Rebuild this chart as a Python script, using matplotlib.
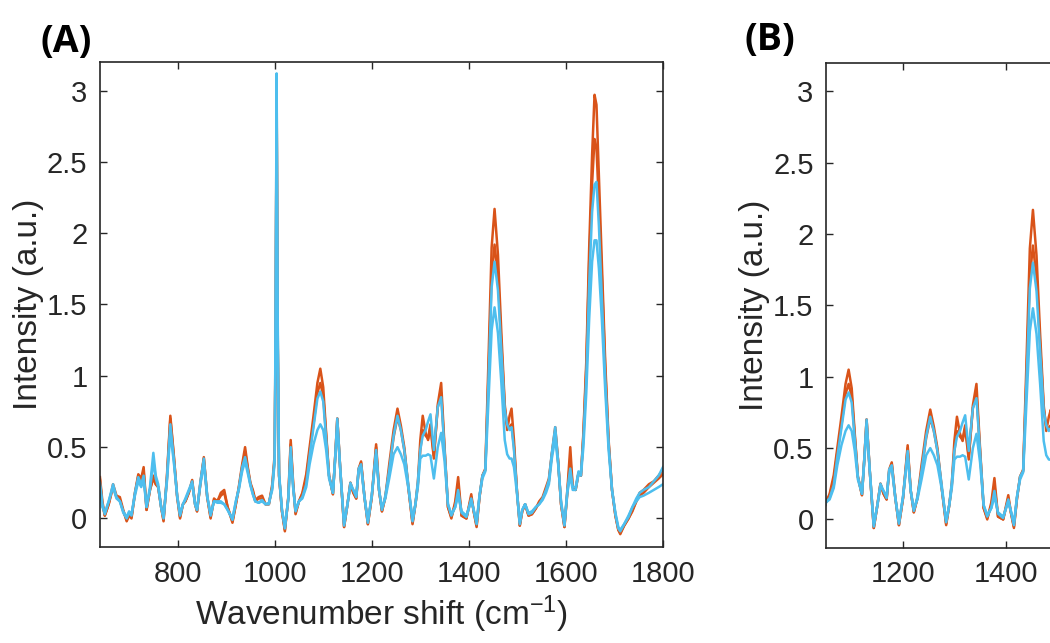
import matplotlib
matplotlib.use("Agg")
import matplotlib.pyplot as plt
from matplotlib.ticker import FormatStrFormatter

plt.rcParams['font.family'] = ['Liberation Sans', 'DejaVu Sans']
plt.rcParams['mathtext.default'] = 'regular'

# Raman spectra (wavenumber in cm^-1, intensity in a.u.)
wavenumber = [640, 645, 650, 658, 667, 674, 681, 688, 695, 700, 705, 712, 719, 725, 730,
              736, 743, 750, 755, 760, 766, 771, 778, 785, 792, 799, 805, 811, 816, 823,
              830, 836, 840, 847, 854, 861, 868, 875, 882, 889, 896, 903, 913, 920, 926,
              933, 939, 945, 950, 955, 960, 967, 974, 981, 988, 995, 1000, 1002, 1004, 1006,
              1009, 1015, 1021, 1028, 1033, 1038, 1043, 1050, 1057, 1065, 1072, 1080, 1088, 1094, 1100,
              1106, 1112, 1120, 1125, 1129, 1135, 1143, 1150, 1156, 1162, 1168, 1173, 1178, 1185, 1192,
              1200, 1209, 1215, 1221, 1228, 1236, 1245, 1253, 1260, 1267, 1276, 1284, 1290, 1295, 1300,
              1305, 1311, 1316, 1321, 1328, 1336, 1343, 1350, 1357, 1364, 1372, 1378, 1385, 1395, 1405,
              1410, 1416, 1422, 1428, 1434, 1440, 1447, 1453, 1460, 1467, 1474, 1479, 1484, 1488, 1493,
              1499, 1505, 1510, 1516, 1523, 1530, 1538, 1545, 1552, 1559, 1565, 1571, 1578, 1584, 1590,
              1597, 1603, 1609, 1614, 1620, 1626, 1631, 1636, 1642, 1648, 1654, 1659, 1663, 1668, 1674,
              1681, 1688, 1695, 1702, 1708, 1712, 1720, 1729, 1737, 1745, 1752, 1760, 1771, 1781, 1791,
              1800]

orange_high = [0.29, 0.12, 0.02, 0.10, 0.24, 0.16, 0.15, 0.06, -0.02, 0.02, 0.00, 0.18, 0.31, 0.28, 0.36,
               0.06, 0.20, 0.28, 0.24, 0.22, 0.08, -0.02, 0.30, 0.72, 0.45, 0.15, 0.00, 0.10, 0.12, 0.18,
               0.27, 0.10, 0.05, 0.25, 0.43, 0.15, 0.00, 0.14, 0.12, 0.18, 0.20, 0.08, -0.03, 0.10, 0.22,
               0.38, 0.50, 0.35, 0.25, 0.20, 0.13, 0.15, 0.16, 0.10, 0.10, 0.24, 0.45, 1.40, 3.05, 1.40,
               0.30, 0.05, -0.09, 0.15, 0.55, 0.25, 0.03, 0.12, 0.18, 0.31, 0.50, 0.72, 0.95, 1.05, 0.92,
               0.60, 0.30, 0.17, 0.45, 0.70, 0.35, -0.06, 0.10, 0.25, 0.18, 0.14, 0.35, 0.40, 0.15, -0.04,
               0.15, 0.52, 0.20, 0.05, 0.15, 0.38, 0.62, 0.77, 0.65, 0.50, 0.20, -0.04, 0.10, 0.25, 0.55,
               0.72, 0.60, 0.55, 0.64, 0.42, 0.80, 0.95, 0.50, 0.08, 0.00, 0.12, 0.29, 0.02, 0.00, 0.17,
               0.05, -0.06, 0.15, 0.30, 0.35, 1.05, 1.90, 2.17, 1.85, 1.30, 0.80, 0.62, 0.72, 0.77, 0.55,
               0.20, -0.05, 0.05, 0.10, 0.02, 0.03, 0.07, 0.12, 0.15, 0.22, 0.28, 0.45, 0.64, 0.40, 0.10,
               -0.06, 0.20, 0.50, 0.22, 0.20, 0.32, 0.30, 0.60, 1.10, 1.90, 2.55, 2.97, 2.90, 2.40, 1.80,
               1.10, 0.55, 0.20, 0.02, -0.08, -0.11, -0.05, 0.00, 0.05, 0.12, 0.18, 0.20, 0.24, 0.26, 0.30,
               0.34]

orange_low = [0.27, 0.10, 0.02, 0.10, 0.22, 0.15, 0.13, 0.05, -0.01, 0.03, 0.01, 0.17, 0.30, 0.26, 0.33,
              0.06, 0.20, 0.30, 0.24, 0.22, 0.08, -0.01, 0.28, 0.70, 0.44, 0.16, 0.01, 0.10, 0.12, 0.18,
              0.26, 0.10, 0.05, 0.25, 0.42, 0.15, 0.01, 0.13, 0.12, 0.16, 0.18, 0.08, -0.02, 0.10, 0.21,
              0.36, 0.47, 0.34, 0.24, 0.19, 0.12, 0.14, 0.14, 0.10, 0.10, 0.22, 0.42, 1.30, 2.95, 1.30,
              0.30, 0.05, -0.08, 0.14, 0.52, 0.24, 0.04, 0.12, 0.17, 0.28, 0.47, 0.66, 0.88, 0.95, 0.86,
              0.58, 0.30, 0.17, 0.45, 0.70, 0.35, -0.06, 0.10, 0.25, 0.18, 0.14, 0.34, 0.39, 0.15, -0.04,
              0.15, 0.50, 0.20, 0.05, 0.15, 0.34, 0.57, 0.71, 0.62, 0.48, 0.20, -0.03, 0.10, 0.24, 0.48,
              0.62, 0.58, 0.56, 0.66, 0.44, 0.78, 0.88, 0.48, 0.08, 0.01, 0.10, 0.24, 0.02, 0.00, 0.15,
              0.05, -0.05, 0.15, 0.30, 0.34, 0.95, 1.70, 1.92, 1.70, 1.22, 0.78, 0.65, 0.64, 0.66, 0.50,
              0.20, -0.05, 0.05, 0.10, 0.02, 0.03, 0.07, 0.11, 0.14, 0.20, 0.26, 0.45, 0.62, 0.40, 0.10,
              -0.06, 0.18, 0.42, 0.22, 0.20, 0.32, 0.30, 0.58, 1.05, 1.80, 2.35, 2.66, 2.60, 2.20, 1.70,
              1.05, 0.53, 0.20, 0.02, -0.08, -0.10, -0.05, 0.00, 0.06, 0.12, 0.16, 0.18, 0.22, 0.25, 0.28,
              0.31]

blue_high = [0.25, 0.10, 0.03, 0.12, 0.24, 0.15, 0.12, 0.04, 0.00, 0.04, 0.02, 0.18, 0.29, 0.24, 0.30,
             0.08, 0.22, 0.46, 0.30, 0.24, 0.08, 0.00, 0.28, 0.66, 0.42, 0.16, 0.02, 0.10, 0.14, 0.20,
             0.26, 0.10, 0.06, 0.26, 0.42, 0.16, 0.02, 0.12, 0.12, 0.12, 0.10, 0.06, -0.01, 0.12, 0.21,
             0.36, 0.43, 0.33, 0.24, 0.17, 0.12, 0.11, 0.13, 0.10, 0.10, 0.22, 0.43, 1.50, 3.12, 1.50,
             0.32, 0.06, -0.07, 0.14, 0.50, 0.22, 0.05, 0.12, 0.15, 0.24, 0.44, 0.64, 0.84, 0.89, 0.82,
             0.56, 0.30, 0.18, 0.45, 0.70, 0.35, -0.05, 0.10, 0.25, 0.20, 0.15, 0.35, 0.38, 0.15, -0.03,
             0.16, 0.48, 0.20, 0.06, 0.16, 0.34, 0.58, 0.72, 0.62, 0.48, 0.22, -0.02, 0.10, 0.26, 0.48,
             0.58, 0.62, 0.68, 0.73, 0.48, 0.78, 0.85, 0.48, 0.10, 0.02, 0.08, 0.20, 0.04, 0.01, 0.14,
             0.06, -0.04, 0.16, 0.30, 0.34, 0.92, 1.62, 1.80, 1.60, 1.18, 0.76, 0.66, 0.62, 0.64, 0.48,
             0.20, -0.04, 0.06, 0.10, 0.03, 0.04, 0.08, 0.10, 0.14, 0.20, 0.27, 0.46, 0.64, 0.40, 0.11,
             -0.05, 0.20, 0.35, 0.22, 0.22, 0.33, 0.32, 0.55, 0.98, 1.65, 2.15, 2.34, 2.36, 2.05, 1.55,
             0.98, 0.52, 0.20, 0.03, -0.07, -0.09, -0.04, 0.01, 0.08, 0.14, 0.18, 0.20, 0.22, 0.26, 0.30,
             0.36]

blue_low = [0.22, 0.08, 0.04, 0.12, 0.22, 0.14, 0.12, 0.05, 0.01, 0.05, 0.03, 0.16, 0.26, 0.22, 0.27,
            0.08, 0.20, 0.40, 0.28, 0.22, 0.08, 0.01, 0.26, 0.60, 0.40, 0.16, 0.03, 0.10, 0.13, 0.19,
            0.24, 0.10, 0.06, 0.24, 0.38, 0.15, 0.03, 0.12, 0.11, 0.11, 0.10, 0.06, 0.00, 0.12, 0.20,
            0.33, 0.40, 0.31, 0.23, 0.17, 0.12, 0.11, 0.12, 0.10, 0.11, 0.20, 0.40, 1.30, 2.90, 1.30,
            0.30, 0.06, -0.06, 0.13, 0.45, 0.22, 0.06, 0.12, 0.14, 0.22, 0.38, 0.52, 0.62, 0.66, 0.62,
            0.48, 0.28, 0.18, 0.43, 0.66, 0.35, -0.04, 0.10, 0.23, 0.20, 0.16, 0.33, 0.36, 0.15, -0.02,
            0.16, 0.45, 0.20, 0.07, 0.14, 0.28, 0.45, 0.50, 0.45, 0.38, 0.20, -0.01, 0.10, 0.22, 0.42,
            0.44, 0.44, 0.45, 0.44, 0.28, 0.50, 0.60, 0.40, 0.10, 0.03, 0.08, 0.16, 0.05, 0.02, 0.12,
            0.06, -0.03, 0.16, 0.28, 0.33, 0.78, 1.32, 1.48, 1.30, 0.95, 0.55, 0.45, 0.42, 0.42, 0.36,
            0.18, -0.03, 0.06, 0.10, 0.04, 0.05, 0.08, 0.10, 0.13, 0.18, 0.24, 0.42, 0.56, 0.38, 0.12,
            -0.04, 0.18, 0.30, 0.20, 0.20, 0.31, 0.30, 0.50, 0.88, 1.40, 1.80, 1.95, 1.95, 1.75, 1.40,
            0.90, 0.48, 0.20, 0.04, -0.06, -0.08, -0.04, 0.02, 0.08, 0.12, 0.15, 0.16, 0.18, 0.20, 0.22,
            0.24]

series = [orange_high, orange_low, blue_high, blue_low]
colors = ['#D95319', '#D95319', '#4DBEEE', '#4DBEEE']
yticks = [0, 0.5, 1, 1.5, 2, 2.5, 3]
xticks = [800, 1000, 1200, 1400, 1600, 1800]

fig = plt.figure(figsize=(10.5, 6.43), dpi=100)
ax_a = fig.add_axes([0.0952, 0.1493, 0.5362, 0.7543])
ax_b = fig.add_axes([0.7867, 0.1478, 0.3667, 0.7543])

for ax, xlim in [(ax_a, (640, 1800)), (ax_b, (1050, 1800))]:
    for y, c in zip(series, colors):
        ax.plot(wavenumber, y, color=c, lw=1.8)
    ax.set_xticks(xticks)
    ax.set_yticks(yticks)
    ax.set_xlim(*xlim)
    ax.set_ylim(-0.2, 3.2)
    ax.yaxis.set_major_formatter(FormatStrFormatter('%g'))
    ax.tick_params(direction='in', length=5, width=1, top=True, right=True,
                   labelsize=21, colors='#262626', pad=9)
    for s in ax.spines.values():
        s.set_color('#262626')
        s.set_linewidth(1.2)
    ax.set_ylabel('Intensity (a.u.)', fontsize=24, color='#262626', labelpad=2)

ax_a.set_xlabel('Wavenumber shift (cm$^{-1}$)', fontsize=24, color='#262626', labelpad=4)

fig.text(40 / 1050, 1 - 42 / 643, '(A)', fontsize=27, fontweight='bold',
         family=['Open Sans', 'DejaVu Sans'], va='center', ha='left')
fig.text(745 / 1050, 1 - 40 / 643, '(B)', fontsize=27, fontweight='bold',
         family=['Open Sans', 'DejaVu Sans'], va='center', ha='left')

fig.savefig('out.png', dpi=100)
